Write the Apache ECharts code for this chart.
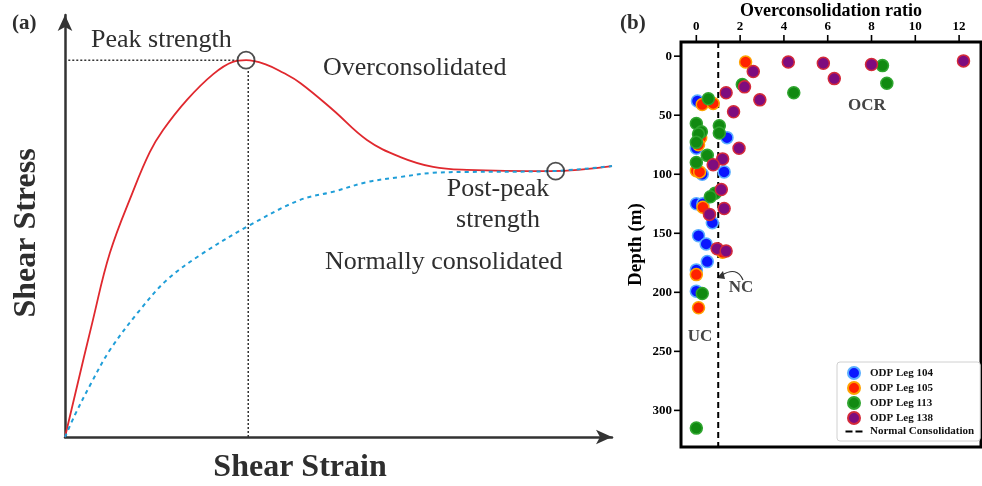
<!DOCTYPE html>
<html>
<head>
<meta charset="utf-8">
<script src="https://cdn.jsdelivr.net/npm/echarts@6/dist/echarts.min.js"></script>
<style>
html,body{margin:0;padding:0;background:#fff;}
#main{width:982px;height:486px;}
</style>
</head>
<body>
<div id="main"></div>
<script>
// (a) conceptual stress-strain curves, arbitrary units 0-100
var strainOC = [0, 5.1, 8.2, 12.4, 15.5, 17.9, 22.3, 27.1, 30.7, 33.1, 36.9, 39.9, 43.0, 49.0, 55.2, 61.2, 67.3, 73.5, 88.7, 100];
var stressOC = [0, 27.7, 43.6, 58.1, 67.5, 72.7, 79.9, 86.0, 88.9, 89.3, 88.2, 86.3, 83.9, 77.5, 70.4, 66.4, 64.0, 63.3, 63.0, 64.2];
var strainNC = [0, 1.8, 4.6, 8.2, 13.7, 18.6, 24.7, 33.8, 43.0, 49.0, 55.2, 61.2, 67.3, 73.5, 88.7, 100];
var stressNC = [0, 5.2, 12.3, 20.6, 30.1, 37.2, 43.1, 50.2, 56.2, 58.1, 60.4, 61.6, 62.6, 62.8, 63.0, 64.2];
var peakPoint = [33.1, 89.3];
var postPeakPoint = [89.7, 63.0];
var peakGuideH = [[0.6, 89.3], [31.4, 89.3]];
var peakGuideV = [[33.5, 0], [33.5, 87.2]];

// (b) OCR vs depth (m)
var leg104 = [[0.05,38],[1.4,69],[0.0,78],[1.27,98],[0.27,100],[0.0,125],[0.3,125],[0.73,141],[0.1,152],[0.45,159],[0.5,174],[0.0,181],[0.0,199]];
var leg105 = [[2.25,5],[0.27,41],[0.77,40],[0.2,69],[0.1,75],[0.0,97],[0.15,98],[0.3,128],[1.2,166],[0.0,185],[0.1,213]];
var leg113 = [[8.5,8],[8.7,23],[4.45,31],[2.1,24],[0.55,36],[0.0,57],[1.05,59],[0.23,64],[1.05,65],[0.1,66],[0.0,73],[0.5,84],[0.0,90],[0.86,116],[0.64,119],[0.27,201],[0.0,315]];
var leg138 = [[12.2,4],[4.2,5],[5.8,6],[8.0,7],[6.3,19],[2.6,13],[2.2,26],[2.9,37],[1.36,31],[1.7,47],[1.95,78],[1.2,87],[0.77,92],[1.14,113],[1.27,129],[0.6,134],[0.95,163],[1.36,165]];
var ncLine = [[1, -12], [1, 331]];
var ocrRange = [-0.7, 13];
var depthRange = [-12, 331];
var ocrTicks = [0, 2, 4, 6, 8, 10, 12];
var depthTicks = [0, 50, 100, 150, 200, 250, 300];

function zip(xs, ys){
	var out = [];
	for(var i=0;i<xs.length;i++) out.push([xs[i], ys[i]]);
	return out;
}

var serif = 'Liberation Serif';
var txtA = '#2e2e2e';

function odp(name, data, fill, edge){
	return {
		name: name, type: 'scatter', xAxisIndex: 0, yAxisIndex: 0,
		data: data, symbol: 'circle', symbolSize: 12,
		itemStyle: {color: fill, borderColor: edge, borderWidth: 1.5, opacity: 1},
		emphasis: {disabled: true}, z: 3
	};
}
function label(text, x, y, font, fill, align){
	return {type: 'text', x: x, y: y, style: {text: text, font: font, fill: fill, textAlign: align || 'left', textVerticalAlign: 'middle'}};
}
// outward tick marks on the (b) frame, positioned through the axes (dx,dy = direction)
function tickMarks(data, dx, dy){
	return {
		name: 'ticks', type: 'custom', xAxisIndex: 0, yAxisIndex: 0, data: data, clip: false, silent: true, z: 10,
		renderItem: function(params, api){
			var p = api.coord([api.value(0), api.value(1)]);
			return {type: 'line', shape: {x1: p[0], y1: p[1], x2: p[0] + dx * 7, y2: p[1] + dy * 7},
				style: {stroke: '#000', lineWidth: 1.6}};
		}
	};
}

var myChart = echarts.init(document.getElementById('main'));
var option = {
	backgroundColor: '#fff',
	animation: false,
	grid: [
		{left: 681, top: 42, right: 1, bottom: 39, show: true, borderColor: '#000', borderWidth: 3, backgroundColor: 'transparent', outerBoundsMode: 'none'},
		{left: 65, top: 15, right: 370, bottom: 49, show: false, outerBoundsMode: 'none'}
	],
	xAxis: [
		{gridIndex: 0, type: 'value', position: 'top', min: ocrRange[0], max: ocrRange[1],
			name: 'Overconsolidation ratio', nameLocation: 'middle', nameGap: 22, nameMoveOverlap: false,
			nameTextStyle: {fontFamily: serif, fontWeight: 'bold', fontSize: 18, color: '#000'},
			axisLine: {show: false, onZero: false},
			axisTick: {show: false},
			axisLabel: {customValues: ocrTicks, margin: 9, fontFamily: serif, fontWeight: 'bold', fontSize: 13, color: '#000'},
			splitLine: {show: false}},
		{gridIndex: 1, type: 'value', min: 0, max: 100,
			axisLine: {show: true, onZero: false, symbol: ['none', 'arrow'], symbolSize: [11, 16], lineStyle: {color: '#333', width: 2.5}},
			axisTick: {show: false}, axisLabel: {show: false}, splitLine: {show: false}}
	],
	yAxis: [
		{gridIndex: 0, type: 'value', inverse: true, min: depthRange[0], max: depthRange[1],
			name: 'Depth (m)', nameLocation: 'middle', nameGap: 35, nameRotate: 90, nameMoveOverlap: false,
			nameTextStyle: {fontFamily: serif, fontWeight: 'bold', fontSize: 19, color: '#000'},
			axisLine: {show: false, onZero: false},
			axisTick: {show: false},
			axisLabel: {customValues: depthTicks, margin: 9, fontFamily: serif, fontWeight: 'bold', fontSize: 13, color: '#000'},
			splitLine: {show: false}},
		{gridIndex: 1, type: 'value', min: 0, max: 100,
			axisLine: {show: true, onZero: false, symbol: ['none', 'arrow'], symbolSize: [11, 16], lineStyle: {color: '#333', width: 2.5}},
			axisTick: {show: false}, axisLabel: {show: false}, splitLine: {show: false}}
	],
	legend: {
		data: ['ODP Leg 104', 'ODP Leg 105', 'ODP Leg 113', 'ODP Leg 138',
			{name: 'Normal Consolidation', icon: 'path://M-2.5,0h0.01v0.01h-0.01zM0,0h7v2.2h-7zM10,0h7v2.2h-7zM19.5,0h0.01v0.01h-0.01z', itemStyle: {color: '#000'}}],
		orient: 'vertical', left: 837, top: 362,
		padding: [4, 6, 4, 6], itemGap: 1, itemWidth: 22, itemHeight: 12,
		backgroundColor: '#fff', borderColor: '#d0d0d0', borderWidth: 1, borderRadius: 3,
		textStyle: {fontFamily: serif, fontWeight: 'bold', fontSize: 11, color: '#111'},
		selectedMode: false
	},
	series: [
		{name: 'Normal Consolidation', type: 'line', xAxisIndex: 0, yAxisIndex: 0, data: ncLine,
			symbol: 'none', itemStyle: {color: '#000'}, lineStyle: {color: '#000', width: 2, type: [6, 4]}, z: 2, silent: true},
		odp('ODP Leg 104', leg104, '#0a16ff', '#5aaeff'),
		odp('ODP Leg 105', leg105, '#ff2200', '#ffa200'),
		odp('ODP Leg 113', leg113, '#118a11', '#2fa52f'),
		odp('ODP Leg 138', leg138, '#7e0c7e', '#d42a3a'),
		tickMarks(ocrTicks.map(function(v){ return [v, depthRange[0]]; }), 0, -1),
		tickMarks(depthTicks.map(function(v){ return [ocrRange[0], v]; }), -1, 0),

		{name: 'guideH', type: 'line', xAxisIndex: 1, yAxisIndex: 1, data: peakGuideH, symbol: 'none',
			lineStyle: {color: '#333', width: 1.5, type: [2, 2]}, silent: true},
		{name: 'guideV', type: 'line', xAxisIndex: 1, yAxisIndex: 1, data: peakGuideV, symbol: 'none',
			lineStyle: {color: '#333', width: 1.5, type: [2, 2]}, silent: true},
		{name: 'Overconsolidated', type: 'line', xAxisIndex: 1, yAxisIndex: 1, data: zip(strainOC, stressOC),
			smooth: 0.4, symbol: 'none', lineStyle: {color: '#e0282e', width: 1.8}, silent: true, z: 3},
		{name: 'Normally consolidated', type: 'line', xAxisIndex: 1, yAxisIndex: 1, data: zip(strainNC, stressNC),
			smooth: 0.35, symbol: 'none', lineStyle: {color: '#1f9ed8', width: 2, type: [4, 4]}, silent: true, z: 4},
		{name: 'marks', type: 'scatter', xAxisIndex: 1, yAxisIndex: 1, data: [peakPoint, postPeakPoint],
			symbol: 'circle', symbolSize: 17,
			itemStyle: {color: 'rgba(0,0,0,0)', borderColor: '#222', borderWidth: 1.8}, silent: true, z: 5}
	],
	graphic: [
		label('(a)', 12, 24, 'bold 21px ' + serif, txtA),
		label('(b)', 620, 24, 'bold 21px ' + serif, txtA),
		label('Peak strength', 91, 40, '26px ' + serif, txtA),
		label('Overconsolidated', 323, 68, '26px ' + serif, txtA),
		label('Post-peak', 498, 189, '26px ' + serif, txtA, 'center'),
		label('strength', 498, 220, '26px ' + serif, txtA, 'center'),
		label('Normally consolidated', 325, 262, '26px ' + serif, txtA),
		{type: 'text', x: 27, y: 233, rotation: Math.PI / 2, style: {text: 'Shear Stress', font: 'bold 32px ' + serif, fill: txtA, textAlign: 'center', textVerticalAlign: 'middle'}},
		label('Shear Strain', 300, 468, 'bold 32px ' + serif, txtA, 'center'),
		label('OCR', 867, 106, 'bold 17px ' + serif, '#444', 'center'),
		label('NC', 741, 288, 'bold 17px ' + serif, '#444', 'center'),
		label('UC', 700, 337, 'bold 17px ' + serif, '#444', 'center'),
		{type: 'bezierCurve', shape: {x1: 743, y1: 280, cpx1: 737, cpy1: 266, x2: 722, y2: 275}, style: {stroke: '#333', lineWidth: 1.2, fill: null}},
		{type: 'polygon', shape: {points: [[717, 278], [723, 271], [725, 279]]}, style: {fill: '#333'}}
	]
};
myChart.setOption(option);
</script>
</body>
</html>
